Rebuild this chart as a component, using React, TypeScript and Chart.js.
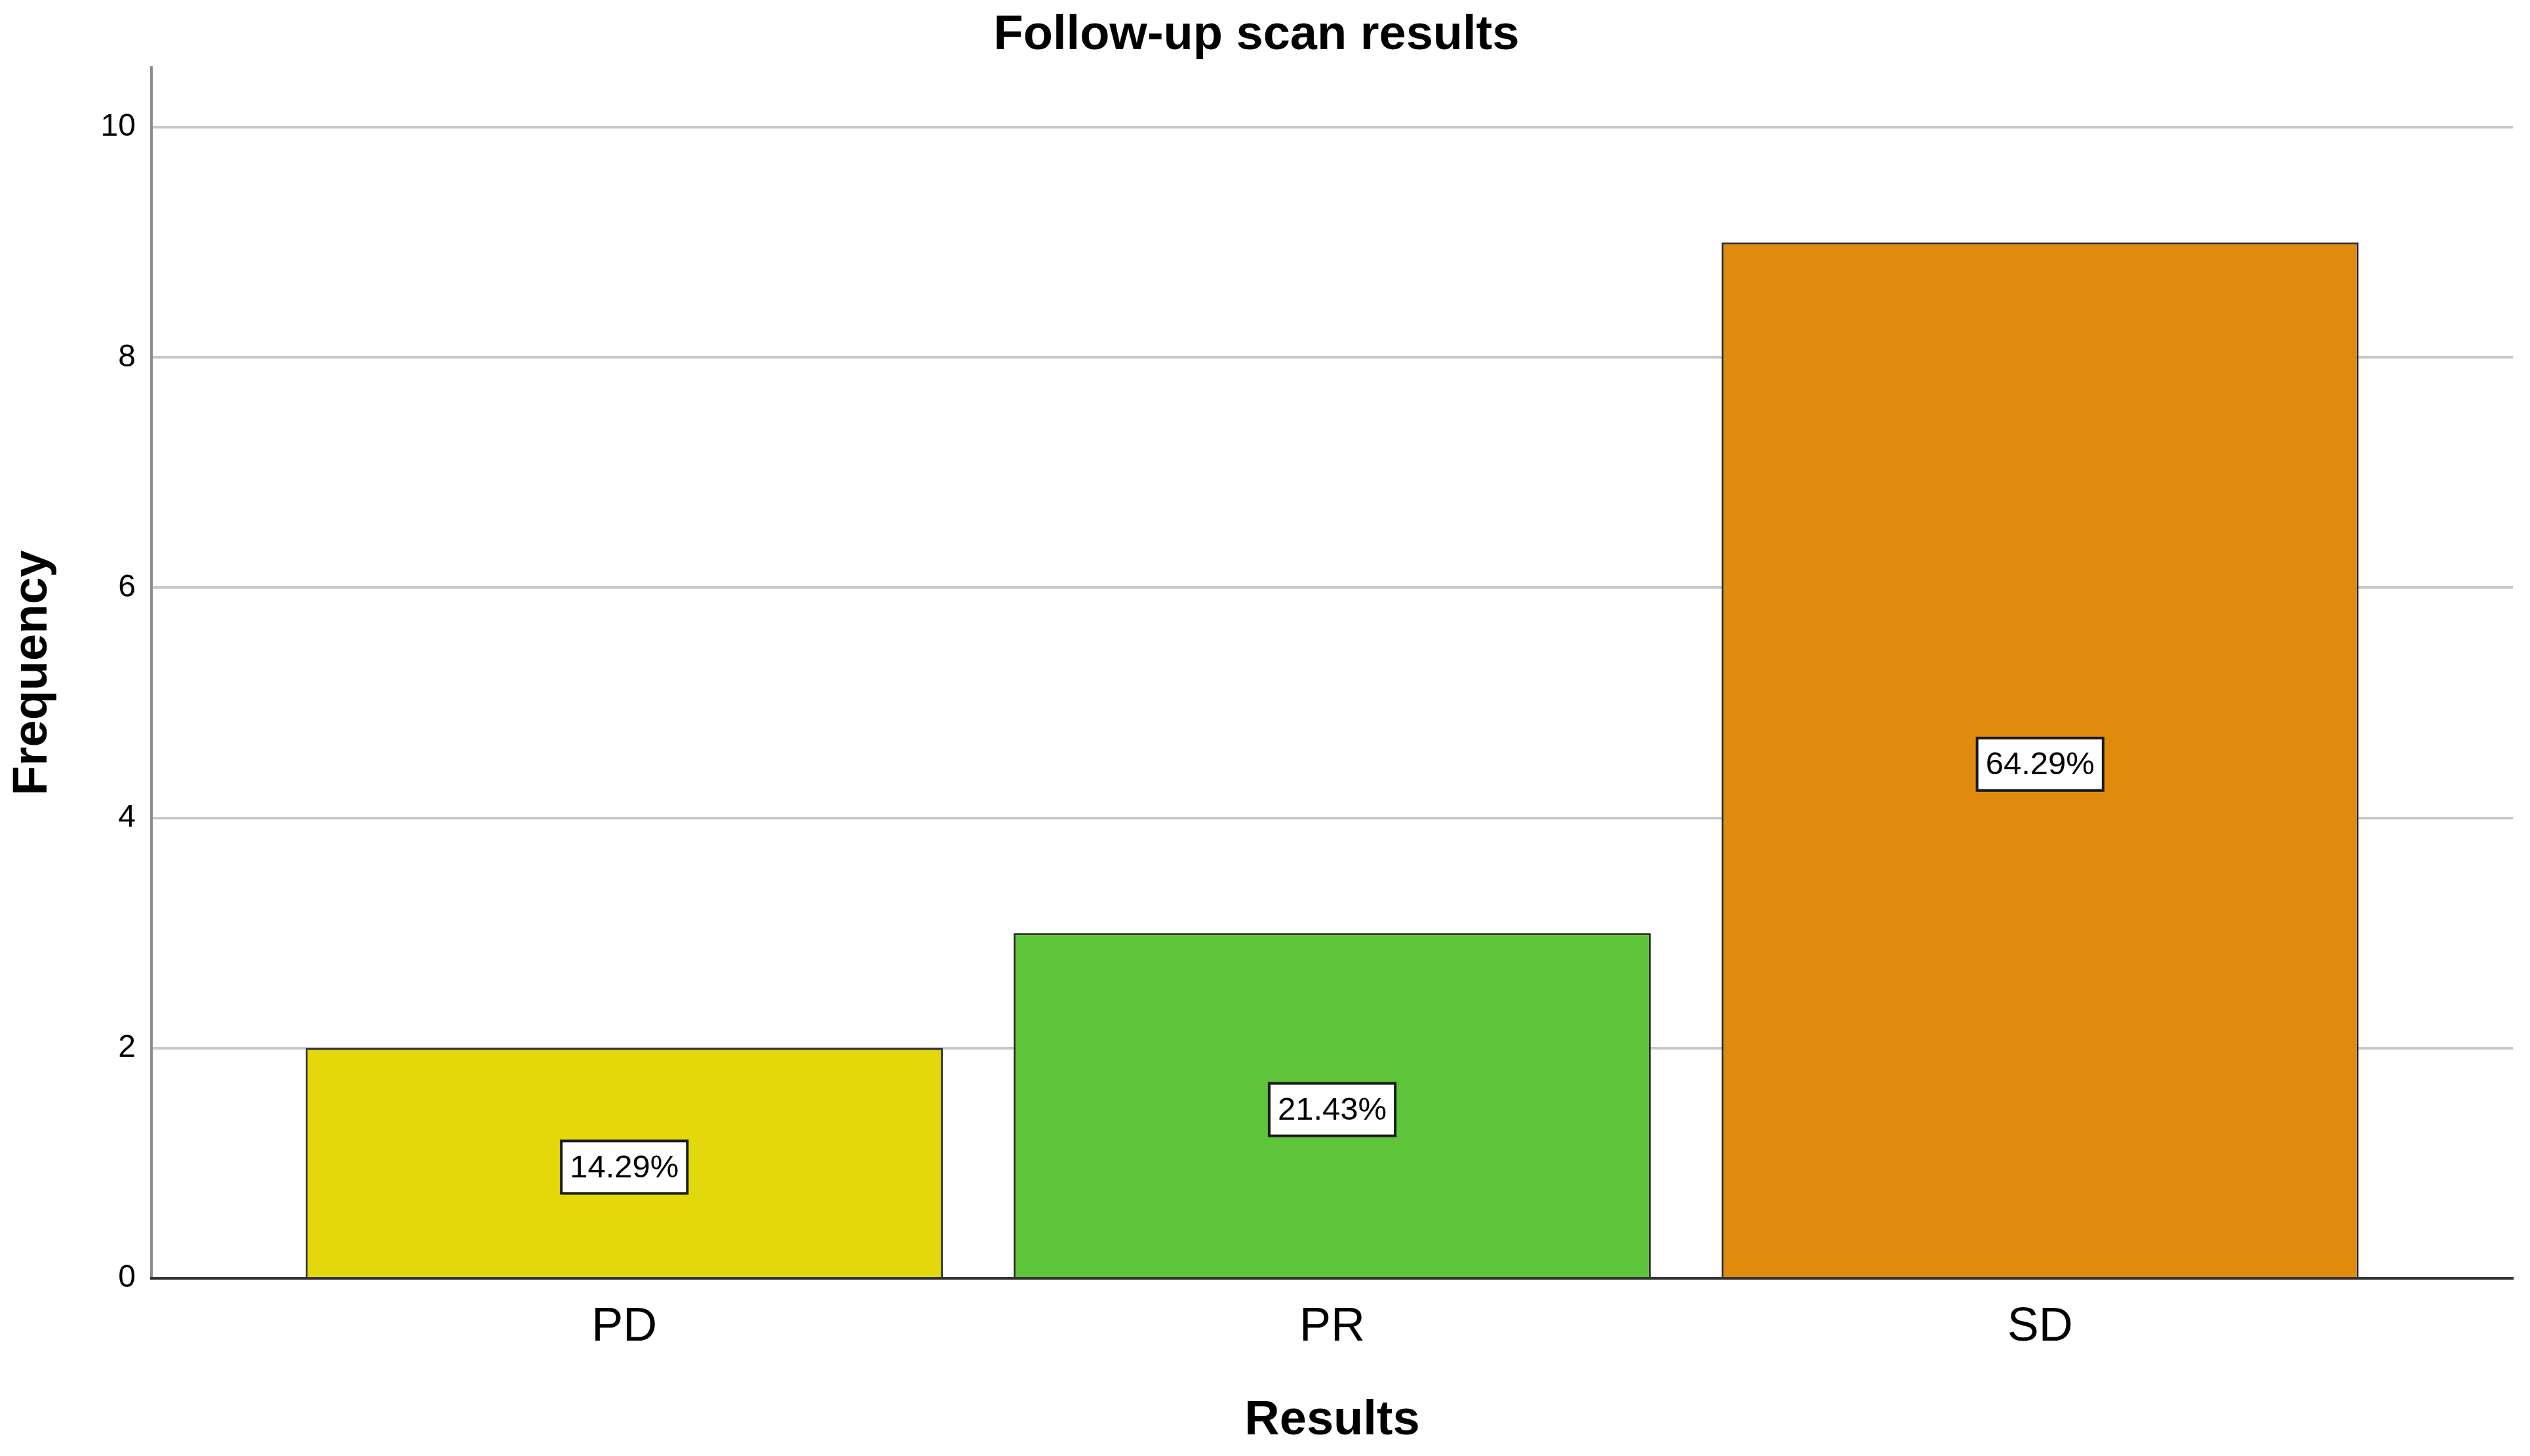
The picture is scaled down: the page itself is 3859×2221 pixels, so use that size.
import { useEffect, useRef } from "react";
import { Chart, registerables } from "chart.js";

Chart.register(...registerables);

const categories = ["PD", "PR", "SD"];
const frequencies = [2, 3, 9];
const barColors = ["#e2d80c", "#5ec43a", "#e08a0e"];
const yTicks = [0, 2, 4, 6, 8, 10];

const total = frequencies.reduce((a, b) => a + b, 0);
const percentLabels = frequencies.map(f => ((f / total) * 100).toFixed(2) + "%");

const FONT = "'Liberation Sans', Arial, Helvetica, sans-serif";

// white boxes with the share of each bar, drawn at half its height
const percentBoxes = {
  id: "percentBoxes",
  afterDatasetsDraw(chart: any) {
    const { ctx, scales } = chart;
    const meta = chart.getDatasetMeta(0);
    ctx.save();
    ctx.font = `49px ${FONT}`;
    ctx.textAlign = "center";
    ctx.textBaseline = "middle";
    meta.data.forEach((bar: any, i: number) => {
      const x = bar.x;
      const y = scales.y.getPixelForValue(frequencies[i] / 2) + 6;
      const text = percentLabels[i];
      const w = ctx.measureText(text).width + 26;
      const h = 80;
      ctx.fillStyle = "#ffffff";
      ctx.fillRect(x - w / 2, y - h / 2, w, h);
      ctx.lineWidth = 4;
      ctx.strokeStyle = "#1a1a1a";
      ctx.strokeRect(x - w / 2, y - h / 2, w, h);
      ctx.fillStyle = "#000000";
      ctx.fillText(text, x, y + 2);
    });
    ctx.restore();
  },
};

export default function App() {
  const chartRef = useRef<HTMLCanvasElement>(null);
  const chartInstance = useRef<Chart | null>(null);

  useEffect(() => {
    if (!chartRef.current) return;
    if (chartInstance.current) chartInstance.current.destroy();

    const ctx = chartRef.current.getContext("2d");
    if (!ctx) return;

    chartInstance.current = new Chart(ctx, {
      type: "bar",
      data: {
        datasets: [
          {
            label: "Frequency",
            data: frequencies.map((v, i) => ({ x: i, y: v })),
            backgroundColor: barColors,
            borderColor: "#2b2b2b",
            borderWidth: 3,
            categoryPercentage: 1,
            barPercentage: 0.9,
          },
        ],
      },
      options: {
        responsive: true,
        maintainAspectRatio: false,
        animation: false,
        layout: { padding: { left: 0, right: 26, top: 0, bottom: 0 } },
        plugins: {
          legend: { display: false },
          tooltip: { enabled: false },
          title: {
            display: true,
            text: "Follow-up scan results",
            color: "#000",
            font: { family: FONT, size: 74, weight: "bold" },
            padding: { top: 10, bottom: 4 },
          },
        },
        scales: {
          x: {
            type: "linear",
            offset: false,
            min: -0.668,
            max: 2.668,
            grid: { display: false, drawTicks: false, offset: false },
            border: { display: true, color: "#333333", width: 4, z: 1 },
            afterBuildTicks: (scale: any) => {
              scale.ticks = categories.map((_, i) => ({ value: i }));
            },
            afterFit: (scale: any) => {
              scale.height = 271;
            },
            ticks: {
              color: "#000",
              padding: 32,
              font: { family: FONT, size: 72 },
              callback: (value: any) => categories[value as number] ?? "",
            },
            title: {
              display: true,
              text: "Results",
              color: "#000",
              font: { family: FONT, size: 74, weight: "bold" },
              padding: { top: 0, bottom: 9 },
            },
          },
          y: {
            min: 0,
            max: 10.52,
            afterBuildTicks: (scale: any) => {
              scale.ticks = yTicks.map(v => ({ value: v }));
            },
            afterFit: (scale: any) => {
              scale.width = 231;
            },
            grid: {
              drawTicks: false,
              lineWidth: 4,
              color: (c: any) => (c.tick && c.tick.value === 0 ? "rgba(0,0,0,0)" : "#c8c8c8"),
            },
            border: { display: true, color: "#8c8c8c", width: 4 },
            ticks: {
              color: "#000",
              padding: 24,
              font: { family: FONT, size: 48 },
            },
            title: {
              display: true,
              text: "Frequency",
              color: "#000",
              font: { family: FONT, size: 74, weight: "bold" },
              padding: { top: 6, bottom: 0 },
            },
          },
        },
      },
      plugins: [percentBoxes],
    });

    return () => {
      if (chartInstance.current) {
        chartInstance.current.destroy();
        chartInstance.current = null;
      }
    };
  }, []);

  return (
    <div style={{ position: "fixed", left: 0, top: 0, width: "3859px", height: "2221px", background: "#fff" }}>
      <canvas ref={chartRef}></canvas>
    </div>
  );
}
